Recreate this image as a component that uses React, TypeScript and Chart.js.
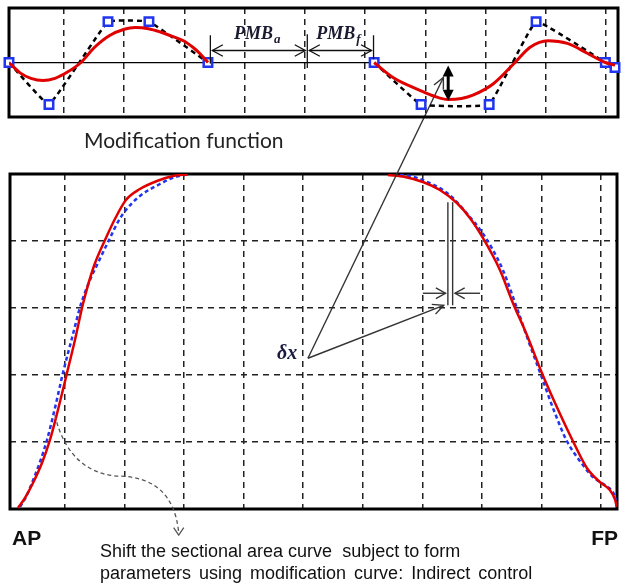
import React, { useEffect, useRef } from "react";
import { Chart, registerables } from "chart.js";
Chart.register(...registerables);

// ---------- Top panel: modification function ----------
const modAX = [0.086, 0.27, 0.45, 0.65, 0.85, 1.05, 1.28, 1.5, 1.75, 2.0, 2.18, 2.4, 2.6, 2.8, 3.0, 3.15, 3.26, 3.39];
const modAY = [0, -0.19, -0.29, -0.33, -0.29, -0.18, 0, 0.27, 0.49, 0.61, 0.64, 0.62, 0.56, 0.48, 0.39, 0.27, 0.16, 0];
const modBX = [6.15, 6.47, 6.91, 7.15, 7.38, 7.6, 7.79, 8.13, 8.49, 8.74, 9.04, 9.36, 9.69, 9.99, 10.15];
const modBY = [0, -0.28, -0.51, -0.62, -0.68, -0.66, -0.6, -0.39, 0, 0.28, 0.4, 0.35, 0.17, 0, -0.05];
const ctrlAX = [0.086, 0.75, 1.73, 2.41, 3.39];
const ctrlAY = [0, -0.77, 0.75, 0.75, 0];
const ctrlBX = [6.15, 6.93, 8.06, 8.84, 9.99, 10.15];
const ctrlBY = [0, -0.77, -0.77, 0.75, 0, -0.09];

// ---------- Bottom panel: sectional area curves ----------
const sacRedLX = [0.211, 0.328, 0.463, 0.614, 0.748, 0.882, 1.034, 1.168, 1.302, 1.487, 1.688, 1.856, 2.024, 2.259, 2.545, 2.813, 3.065];
const sacRedLY = [0.015, 0.164, 0.388, 0.687, 1.03, 1.478, 2.03, 2.522, 3.06, 3.627, 4.045, 4.358, 4.612, 4.776, 4.896, 4.97, 4.993];
const sacBlueLX = [0.244, 0.345, 0.446, 0.58, 0.698, 0.832, 0.966, 1.118, 1.269, 1.42, 1.554, 1.756, 1.89, 2.024, 2.259, 2.595, 2.847, 3.015];
const sacBlueLY = [0.03, 0.179, 0.388, 0.701, 1.03, 1.507, 2.03, 2.552, 3.06, 3.418, 3.672, 4.045, 4.284, 4.463, 4.672, 4.851, 4.955, 4.985];
const sacRedRX = [6.423, 6.709, 7.011, 7.296, 7.582, 7.8, 8.018, 8.304, 8.522, 8.757, 9.009, 9.26, 9.529, 9.764, 9.982, 10.15, 10.234, 10.268];
const sacRedRY = [4.985, 4.955, 4.881, 4.761, 4.567, 4.343, 4.045, 3.567, 3.075, 2.597, 2.03, 1.522, 1.015, 0.612, 0.403, 0.284, 0.149, 0.03];
const sacBlueRX = [6.625, 6.793, 7.044, 7.347, 7.514, 7.8, 8.001, 8.186, 8.354, 8.589, 8.807, 8.975, 9.227, 9.428, 9.697, 9.865, 10.066, 10.2, 10.268];
const sacBlueRY = [4.985, 4.97, 4.896, 4.761, 4.642, 4.358, 4.134, 3.866, 3.567, 3.0, 2.448, 2.045, 1.433, 1.015, 0.657, 0.478, 0.358, 0.254, 0.134];

const gridXTicks = [1, 2, 3, 4, 5, 6, 7, 8, 9, 10];
const gridYTicksBottom = [1, 2, 3, 4];
const gridYTicksTop = [0];

const RED = "#e00000";
const BLUE = "#1f35f0";
const INK = "#111111";

const toPts = (xs: number[], ys: number[]) => xs.map((x, i) => ({ x, y: ys[i] }));

function head(ctx: CanvasRenderingContext2D, x: number, y: number, ang: number, len = 11, half = 0.5) {
  ctx.beginPath();
  ctx.moveTo(x - len * Math.cos(ang - half), y - len * Math.sin(ang - half));
  ctx.lineTo(x, y);
  ctx.lineTo(x - len * Math.cos(ang + half), y - len * Math.sin(ang + half));
  ctx.stroke();
}
function arrow(ctx: CanvasRenderingContext2D, x1: number, y1: number, x2: number, y2: number, len = 11, half = 0.5) {
  ctx.beginPath();
  ctx.moveTo(x1, y1);
  ctx.lineTo(x2, y2);
  ctx.stroke();
  head(ctx, x2, y2, Math.atan2(y2 - y1, x2 - x1), len, half);
}
function border(chart: any) {
  const { ctx, chartArea: a } = chart;
  ctx.save();
  ctx.lineWidth = 3;
  ctx.strokeStyle = "#000";
  ctx.strokeRect(a.left, a.top, a.right - a.left, a.bottom - a.top);
  ctx.restore();
}
function subLabel(ctx: CanvasRenderingContext2D, main: string, sub: string, cx: number, base: number) {
  ctx.font = 'bold italic 18px "Liberation Serif"';
  const w1 = ctx.measureText(main).width;
  ctx.font = 'bold italic 13px "Liberation Serif"';
  const w2 = ctx.measureText(sub).width;
  const x0 = cx - (w1 + w2) / 2;
  ctx.font = 'bold italic 18px "Liberation Serif"';
  ctx.fillText(main, x0, base);
  ctx.font = 'bold italic 13px "Liberation Serif"';
  ctx.fillText(sub, x0 + w1 + 1, base + 4);
}

const baseScale = (min: number, max: number, ticks: number[], color: string, width: number, dash: number[]) => ({
  type: "linear",
  min,
  max,
  afterBuildTicks: (s: any) => {
    s.ticks = ticks.map((v) => ({ value: v }));
  },
  ticks: { display: false },
  grid: { color, lineWidth: width, drawTicks: false },
  border: { display: false, dash },
});

export default function App() {
  const topRef = useRef<HTMLCanvasElement>(null);
  const botRef = useRef<HTMLCanvasElement>(null);

  useEffect(() => {
    const topPlugin = {
      id: "topDecor",
      beforeDatasetsDraw: border,
      afterDraw(chart: any) {
        const { ctx, scales } = chart;
        const X = (u: number) => scales.x.getPixelForValue(u);
        const Y = (v: number) => scales.y.getPixelForValue(v);
        ctx.save();
        ctx.strokeStyle = INK;
        ctx.fillStyle = INK;
        ctx.lineWidth = 1.3;
        // PMB ticks
        const ticks = [
          [3.43, 0.5, -0.02],
          [5.04, 0.52, -0.1],
          [6.14, 0.5, 0.06],
        ];
        ticks.forEach(([u, t, b]) => {
          ctx.beginPath();
          ctx.moveTo(X(u), Y(t));
          ctx.lineTo(X(u), Y(b));
          ctx.stroke();
        });
        const ay = Y(0.22);
        const dbl = (u1: number, u2: number) => {
          const x1 = X(u1) + 2, x2 = X(u2) - 2;
          arrow(ctx, x1, ay, x2, ay, 12, 0.5);
          head(ctx, x1, ay, Math.PI, 12, 0.5);
        };
        dbl(3.43, 5.04);
        dbl(5.04, 6.14);
        ctx.fillStyle = "#1a1a30";
        subLabel(ctx, "PMB", "a", X(4.2), Y(0.44));
        subLabel(ctx, "PMB", "f", X(5.55), Y(0.44));
        // filled double arrow
        const dx = X(7.38), dy1 = Y(-0.055), dy2 = Y(-0.7);
        ctx.fillStyle = "#000";
        ctx.strokeStyle = "#000";
        ctx.lineWidth = 3;
        ctx.beginPath();
        ctx.moveTo(dx, dy1 + 8);
        ctx.lineTo(dx, dy2 - 8);
        ctx.stroke();
        ctx.beginPath();
        ctx.moveTo(dx, dy1);
        ctx.lineTo(dx - 5.5, dy1 + 11);
        ctx.lineTo(dx + 5.5, dy1 + 11);
        ctx.closePath();
        ctx.fill();
        ctx.beginPath();
        ctx.moveTo(dx, dy2);
        ctx.lineTo(dx - 5.5, dy2 - 11);
        ctx.lineTo(dx + 5.5, dy2 - 11);
        ctx.closePath();
        ctx.fill();
        ctx.restore();
      },
    };

    const top = new Chart(topRef.current!, {
      type: "line",
      data: {
        datasets: [
          { data: toPts(modAX, modAY), borderColor: RED, borderWidth: 3, pointRadius: 0, cubicInterpolationMode: "monotone" },
          { data: toPts(modBX, modBY), borderColor: RED, borderWidth: 3, pointRadius: 0, cubicInterpolationMode: "monotone" },
          {
            data: toPts(ctrlAX, ctrlAY), borderColor: "#000", borderWidth: 2.5, borderDash: [5, 4], tension: 0.08,
            pointStyle: "rect", pointRadius: 6, pointBorderColor: BLUE, pointBackgroundColor: "#fff", pointBorderWidth: 2.5, clip: false,
          },
          {
            data: toPts(ctrlBX, ctrlBY), borderColor: "#000", borderWidth: 2.5, borderDash: [5, 4], tension: 0.08,
            pointStyle: "rect", pointRadius: 6, pointBorderColor: BLUE, pointBackgroundColor: "#fff", pointBorderWidth: 2.5, clip: false,
          },
        ] as any,
      },
      options: {
        animation: false,
        responsive: false,
        events: [],
        layout: { padding: { left: 9, right: 6, top: 8, bottom: 8 }, autoPadding: false },
        plugins: { legend: { display: false }, tooltip: { enabled: false } },
        scales: {
          x: baseScale(0.086, 10.2, gridXTicks, "#222", 1.5, [6, 5]),
          y: baseScale(-1, 1, gridYTicksTop, "#000", 1.2, []),
        } as any,
      },
      plugins: [topPlugin],
    });

    const botPlugin = {
      id: "botDecor",
      beforeDatasetsDraw: border,
      afterDraw(chart: any) {
        const { ctx, scales } = chart;
        const X = (u: number) => scales.x.getPixelForValue(u);
        const Y = (v: number) => scales.y.getPixelForValue(v);
        ctx.save();
        ctx.strokeStyle = "#333";
        ctx.lineWidth = 1.4;
        // delta x marker lines
        [7.43, 7.51].forEach((u) => {
          ctx.beginPath();
          ctx.moveTo(X(u), Y(4.58));
          ctx.lineTo(X(u), Y(3.04));
          ctx.stroke();
        });
        arrow(ctx, X(7.01), Y(3.22), X(7.39), Y(3.22), 11, 0.5);
        arrow(ctx, X(7.97), Y(3.22), X(7.55), Y(3.22), 11, 0.5);
        // pointer lines from delta x label
        const px0 = X(5.08), py0 = Y(2.25);
        arrow(ctx, px0, py0, X(7.36), Y(3.04), 12, 0.45);
        const ts = top.scales as any;
        arrow(ctx, px0, py0, ts.x.getPixelForValue(7.3), ts.y.getPixelForValue(-0.275), 12, 0.45);
        // curved dashed arrow
        ctx.strokeStyle = "#555";
        ctx.lineWidth = 1.3;
        ctx.setLineDash([4, 3]);
        ctx.beginPath();
        ctx.moveTo(X(0.832), Y(1.4));
        ctx.bezierCurveTo(X(1.0), Y(0.75), X(1.45), Y(0.5), X(1.923), Y(0.49));
        ctx.bezierCurveTo(X(2.45), Y(0.48), X(2.85), Y(0.25), X(2.91), Y(-0.36));
        ctx.stroke();
        ctx.setLineDash([]);
        head(ctx, X(2.91), Y(-0.39), Math.PI / 2, 9, 0.6);
        // texts
        ctx.fillStyle = "#1a1a40";
        ctx.font = 'bold italic 20px "Liberation Serif"';
        ctx.textAlign = "center";
        ctx.fillText("δx", X(4.73), Y(2.24));
        ctx.fillStyle = INK;
        ctx.font = 'bold 21px "Liberation Sans"';
        ctx.textAlign = "left";
        ctx.fillText("AP", 12, 545);
        ctx.textAlign = "right";
        ctx.fillText("FP", 618, 545);
        ctx.textAlign = "left";
        ctx.font = '18px "Liberation Sans"';
        ctx.fillText("Shift the sectional area curve  subject to form", 100, 557);
        (ctx as any).wordSpacing = "3px";
        ctx.fillText("parameters using modification curve: Indirect control", 100, 579);
        (ctx as any).wordSpacing = "0px";
        ctx.fillStyle = "#222";
        ctx.font = '21px Lato';
        ctx.fillText("Modification function", 84, 148);
        ctx.restore();
      },
    };

    const bot = new Chart(botRef.current!, {
      type: "line",
      data: {
        datasets: [
          { data: toPts(sacRedLX, sacRedLY), borderColor: RED, borderWidth: 2.5, pointRadius: 0, cubicInterpolationMode: "monotone" },
          { data: toPts(sacRedRX, sacRedRY), borderColor: RED, borderWidth: 2.5, pointRadius: 0, cubicInterpolationMode: "monotone" },
          { data: toPts(sacBlueLX, sacBlueLY), borderColor: BLUE, borderWidth: 2.5, borderDash: [4, 3], pointRadius: 0, cubicInterpolationMode: "monotone" },
          { data: toPts(sacBlueRX, sacBlueRY), borderColor: BLUE, borderWidth: 2.5, borderDash: [4, 3], pointRadius: 0, cubicInterpolationMode: "monotone" },
        ] as any,
      },
      options: {
        animation: false,
        responsive: false,
        events: [],
        layout: { padding: { left: 10, right: 7, top: 174, bottom: 77 }, autoPadding: false },
        plugins: { legend: { display: false }, tooltip: { enabled: false } },
        scales: {
          x: baseScale(0.077, 10.27, gridXTicks, "#222", 1.5, [6, 5]),
          y: baseScale(0, 5, gridYTicksBottom, "#222", 1.5, [6, 5]),
        } as any,
      },
      plugins: [botPlugin],
    });

    return () => {
      bot.destroy();
      top.destroy();
    };
  }, []);

  return (
    <div style={{ position: "fixed", left: 0, top: 0, width: 624, height: 586, background: "#fff" }}>
      <canvas ref={botRef} width={624} height={586} style={{ position: "absolute", left: 0, top: 0, width: 624, height: 586 }} />
      <canvas ref={topRef} width={624} height={125} style={{ position: "absolute", left: 0, top: 0, width: 624, height: 125 }} />
    </div>
  );
}
